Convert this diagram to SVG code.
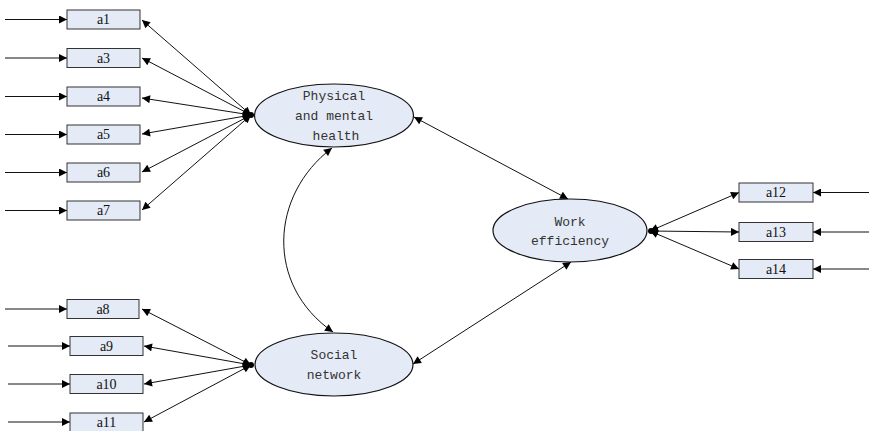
<svg xmlns="http://www.w3.org/2000/svg" width="869" height="431" viewBox="0 0 869 431">
  <defs>
    <marker id="arr" viewBox="0 0 10 10" refX="10" refY="5" markerWidth="10" markerHeight="8" markerUnits="userSpaceOnUse" orient="auto-start-reverse">
      <path d="M0,0 L10,5 L0,10 Z" fill="#000"/>
    </marker>
  </defs>
  <style>
    .box rect { fill: #e4eaf6; stroke: #333; stroke-width: 1; }
    .box text { font-family: "Liberation Serif", serif; font-size: 14px; fill: #111; text-anchor: middle; }
    .lat ellipse { fill: #e4eaf6; stroke: #111; stroke-width: 1.2; }
    .lat text { font-family: "Liberation Mono", "DejaVu Sans Mono", monospace; font-size: 13px; fill: #333; text-anchor: middle; }
    .edge { stroke: #111; stroke-width: 1; fill: none; }
    .one { marker-end: url(#arr); }
    .two { marker-start: url(#arr); marker-end: url(#arr); }
  </style>

  <!-- connectors -->
  <g id="connectors">
    <!-- error terms into left indicators -->
    <line class="edge one" x1="5" y1="19.5" x2="67" y2="19.5"/>
    <line class="edge one" x1="5" y1="58" x2="67" y2="58"/>
    <line class="edge one" x1="5" y1="96.5" x2="67" y2="96.5"/>
    <line class="edge one" x1="5" y1="134.5" x2="67" y2="134.5"/>
    <line class="edge one" x1="5" y1="172.5" x2="67" y2="172.5"/>
    <line class="edge one" x1="5" y1="210.5" x2="67" y2="210.5"/>
    <line class="edge one" x1="5" y1="309" x2="67" y2="309"/>
    <line class="edge one" x1="8" y1="346" x2="70" y2="346"/>
    <line class="edge one" x1="8" y1="384" x2="70" y2="384"/>
    <line class="edge one" x1="8" y1="422" x2="70" y2="422"/>
    <!-- error terms into right indicators -->
    <line class="edge one" x1="869" y1="192.5" x2="813" y2="192.5"/>
    <line class="edge one" x1="869" y1="232" x2="813" y2="232"/>
    <line class="edge one" x1="869" y1="269" x2="813" y2="269"/>

    <!-- Physical and mental health loadings -->
    <line class="edge two" x1="251" y1="115" x2="142" y2="20"/>
    <line class="edge two" x1="251" y1="115" x2="142" y2="58"/>
    <line class="edge two" x1="251" y1="115" x2="142" y2="98"/>
    <line class="edge two" x1="251" y1="115" x2="142" y2="134"/>
    <line class="edge two" x1="251" y1="115" x2="142" y2="172"/>
    <line class="edge two" x1="251" y1="115" x2="142" y2="210"/>

    <!-- Social network loadings -->
    <line class="edge two" x1="251" y1="365" x2="142" y2="309"/>
    <line class="edge two" x1="251" y1="365" x2="144" y2="346"/>
    <line class="edge two" x1="251" y1="365" x2="144" y2="384"/>
    <line class="edge two" x1="251" y1="365" x2="144" y2="422"/>

    <!-- Work efficiency loadings -->
    <line class="edge two" x1="650" y1="231" x2="739" y2="192.5"/>
    <line class="edge two" x1="650" y1="231" x2="739" y2="232"/>
    <line class="edge two" x1="650" y1="231" x2="739" y2="269"/>

    <!-- structural paths -->
    <line class="edge two" x1="414" y1="117" x2="568" y2="199"/>
    <line class="edge two" x1="413" y1="364" x2="571" y2="262"/>
    <path class="edge two" d="M332,148 C270,195 265,285 333,332"/>

    <!-- hub dots -->
    <circle cx="251" cy="115" r="3" fill="#000"/>
    <circle cx="251" cy="365" r="3" fill="#000"/>
    <circle cx="651" cy="231" r="3" fill="#000"/>
  </g>

  <!-- latent variables -->
  <g id="physical" class="lat">
    <ellipse cx="334" cy="115.5" rx="79.5" ry="31.5"/>
    <text x="334" y="100">Physical</text>
    <text x="334" y="120">and mental</text>
    <text x="336" y="140">health</text>
  </g>
  <g id="social" class="lat">
    <ellipse cx="334" cy="364.5" rx="79" ry="31.5"/>
    <text x="334" y="359">Social</text>
    <text x="334" y="379">network</text>
  </g>
  <g id="work" class="lat">
    <ellipse cx="570" cy="230.5" rx="77" ry="31.5"/>
    <text x="570" y="226">Work</text>
    <text x="570" y="245">efficiency</text>
  </g>

  <!-- observed indicators -->
  <g id="a1" class="box"><rect x="67" y="10" width="73" height="19"/><text x="103.5" y="24">a1</text></g>
  <g id="a3" class="box"><rect x="67" y="48.5" width="73" height="19"/><text x="103.5" y="62.5">a3</text></g>
  <g id="a4" class="box"><rect x="67" y="87" width="73" height="19"/><text x="103.5" y="101">a4</text></g>
  <g id="a5" class="box"><rect x="67" y="125" width="73" height="19"/><text x="103.5" y="139">a5</text></g>
  <g id="a6" class="box"><rect x="67" y="163" width="73" height="19"/><text x="103.5" y="177">a6</text></g>
  <g id="a7" class="box"><rect x="67" y="201" width="73" height="19"/><text x="103.5" y="215">a7</text></g>
  <g id="a8" class="box"><rect x="67" y="299.5" width="72" height="19"/><text x="103" y="313.5">a8</text></g>
  <g id="a9" class="box"><rect x="70" y="336.5" width="73" height="19"/><text x="106.5" y="350.5">a9</text></g>
  <g id="a10" class="box"><rect x="70" y="374.5" width="73" height="19"/><text x="106.5" y="388.5">a10</text></g>
  <g id="a11" class="box"><rect x="70" y="413" width="73" height="19"/><text x="106.5" y="427">a11</text></g>
  <g id="a12" class="box"><rect x="739" y="183" width="74" height="19"/><text x="776" y="197">a12</text></g>
  <g id="a13" class="box"><rect x="739" y="222.5" width="74" height="19"/><text x="776" y="236.5">a13</text></g>
  <g id="a14" class="box"><rect x="739" y="259.5" width="74" height="19"/><text x="776" y="273.5">a14</text></g>
</svg>
